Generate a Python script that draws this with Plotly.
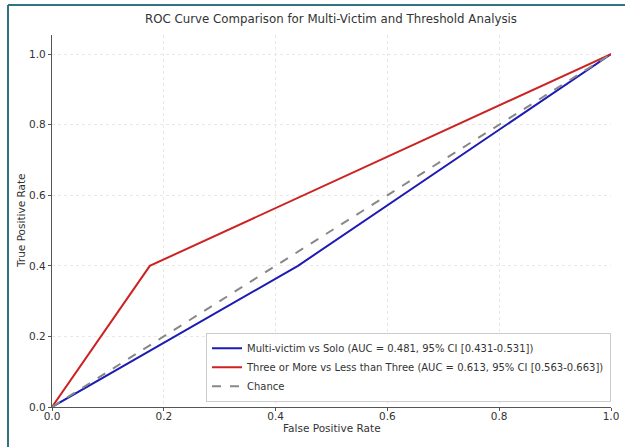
import plotly.graph_objects as go

# Data
chance_fpr = [0.0, 1.0]
chance_tpr = [0.0, 1.0]
multi_fpr = [0.0, 0.44, 1.0]
multi_tpr = [0.0, 0.40, 1.0]
three_fpr = [0.0, 0.175, 1.0]
three_tpr = [0.0, 0.40, 1.0]
names = [
    "Multi-victim vs Solo (AUC = 0.481, 95% CI [0.431-0.531])",
    "Three or More vs Less than Three (AUC = 0.613, 95% CI [0.563-0.663])",
    "Chance",
]
tick_vals = [0.0, 0.2, 0.4, 0.6, 0.8, 1.0]
tick_text = ["0.0", "0.2", "0.4", "0.6", "0.8", "1.0"]

fig = go.Figure()
fig.add_trace(go.Scatter(x=multi_fpr, y=multi_tpr, mode="lines", name=names[0],
                         line=dict(color="#1c1cb4", width=2)))
fig.add_trace(go.Scatter(x=three_fpr, y=three_tpr, mode="lines", name=names[1],
                         line=dict(color="#cc2222", width=2)))
fig.add_trace(go.Scatter(x=chance_fpr, y=chance_tpr, mode="lines", name=names[2],
                         line=dict(color="#888888", width=2, dash="dash")))

W, H = 625, 447
L, R, T, B = 52, 14, 35, 40
pw, ph = W - L - R, H - T - B

def px_x(p):
    return (p - L) / pw

def px_y(p):
    return (H - B - p) / ph

fig.update_layout(
    width=W, height=H,
    margin=dict(l=L, r=R, t=T, b=B, autoexpand=False),
    paper_bgcolor="white", plot_bgcolor="white",
    font=dict(family="DejaVu Sans", size=10.5, color="#333333"),
    title=dict(text="ROC Curve Comparison for Multi-Victim and Threshold Analysis",
               x=331 / W, xanchor="center", y=1 - 19 / H, yanchor="middle",
               font=dict(size=11.8, color="#333333")),
    xaxis=dict(range=[0, 1.0], tickvals=tick_vals, ticktext=tick_text,
               showline=True, linecolor="#555555", linewidth=1.2, mirror=False,
               ticks="outside", ticklen=3, tickcolor="#555555",
               ticklabelstandoff=-4,
               showgrid=True, gridcolor="#e8e8e8", griddash="dot", zeroline=False,
               automargin=False),
    yaxis=dict(range=[0, 1.054], tickvals=tick_vals, ticktext=tick_text,
               showline=True, linecolor="#555555", linewidth=1.2, mirror=False,
               ticks="outside", ticklen=3, tickcolor="#555555",
               showgrid=True, gridcolor="#e8e8e8", griddash="dot", zeroline=False,
               automargin=False),
    legend=dict(x=1.0, y=0.014, xanchor="right", yanchor="bottom",
                bgcolor="rgba(255,255,255,0.9)", bordercolor="#cccccc", borderwidth=1,
                font=dict(size=10), tracegroupgap=0),
    showlegend=True,
)

# Axis titles
fig.add_annotation(text="False Positive Rate", xref="paper", yref="paper",
                   x=0.5, y=px_y(428), xanchor="center", yanchor="middle",
                   showarrow=False, font=dict(size=10.5, color="#333333"))
fig.add_annotation(text="True Positive Rate", xref="paper", yref="paper",
                   x=px_x(21), y=0.5, xanchor="center", yanchor="middle",
                   textangle=-90, showarrow=False, font=dict(size=10.5, color="#333333"))

# Teal frame around screenshot (left and top edges)
fig.add_shape(type="line", xref="paper", yref="paper",
              x0=px_x(8), x1=px_x(8), y0=px_y(447), y1=px_y(5),
              line=dict(color="#2f7480", width=2))
fig.add_shape(type="line", xref="paper", yref="paper",
              x0=px_x(8), x1=px_x(625), y0=px_y(5), y1=px_y(5),
              line=dict(color="#2f7480", width=2))

fig.write_html("out.html", config={"displayModeBar": False},
               post_script="document.body.style.margin='0px';")
